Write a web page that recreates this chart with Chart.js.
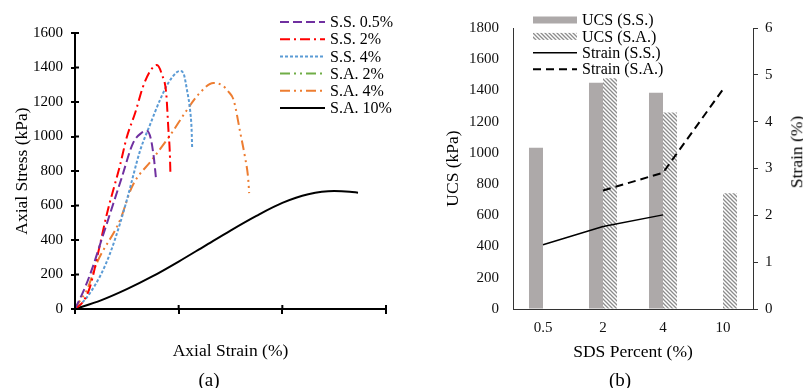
<!DOCTYPE html>
<html>
<head>
<meta charset="utf-8">
<script src="https://cdn.jsdelivr.net/npm/chart.js@4.4.0/dist/chart.umd.min.js"></script>
<style>
  html, body { margin: 0; padding: 0; background: #fff; overflow: hidden; }
  #wrap { position: relative; width: 803px; height: 388px; font-family: "Liberation Serif", "Times New Roman", serif; color: #000; }
  .box { position: absolute; top: 0; height: 388px; }
  .txt { position: absolute; white-space: nowrap; transform: translate(-50%, -50%); line-height: 1; }
</style>
</head>
<body>
<div id="wrap">
  <div class="box" style="left:0;width:400px"><canvas id="stressChart" width="400" height="388"></canvas></div>
  <div class="box" style="left:400px;width:403px"><canvas id="ucsChart" width="403" height="388"></canvas></div>
  <div class="txt" style="left:209px;top:379px;font-size:19px">(a)</div>
  <div class="txt" style="left:620px;top:379px;font-size:19px">(b)</div>
  <div class="txt" style="left:797px;top:152px;font-size:17.5px;transform:translate(-50%,-50%) rotate(-90deg)">Strain (%)</div>
</div>
<script>
const serif = '"Liberation Serif", "Times New Roman", serif';

// (a) stress-strain curves: strain (%) and axial stress (kPa)
const ss05Strain = [0, 0.19, 0.35, 0.5, 0.68, 0.9, 1.12, 1.28, 1.39, 1.46, 1.52, 1.56];
const ss05Stress = [0, 122, 250, 390, 556, 760, 962, 1020, 1032, 990, 880, 765];
const ss2Strain = [0, 0.15, 0.29, 0.45, 0.61, 0.87, 1.0, 1.16, 1.31, 1.45, 1.58, 1.68, 1.76, 1.8, 1.83, 1.84];
const ss2Stress = [0, 40, 128, 330, 545, 835, 997, 1136, 1287, 1380, 1414, 1356, 1250, 1050, 900, 794];
const ss4Strain = [0, 0.15, 0.29, 0.5, 0.68, 0.87, 1.0, 1.26, 1.45, 1.64, 1.8, 1.97, 2.03, 2.1, 2.16, 2.22, 2.25, 2.26];
const ss4Stress = [0, 40, 93, 200, 325, 497, 632, 922, 1070, 1212, 1310, 1374, 1380, 1360, 1270, 1154, 1038, 933];
const sa2Strain = [];
const sa2Stress = [];
const sa4Strain = [0, 0.1, 0.23, 0.42, 0.87, 1.1, 1.5, 1.84, 2.16, 2.4, 2.67, 2.85, 2.96, 3.06, 3.19, 3.28, 3.34, 3.36];
const sa4Stress = [0, 50, 110, 266, 516, 709, 870, 1009, 1154, 1250, 1310, 1295, 1260, 1212, 1020, 880, 760, 672];
const sa10Strain = [0, 0.5, 1.0, 1.5, 2.0, 2.5, 3.0, 3.5, 4.0, 4.5, 5.0, 5.3, 5.46];
const sa10Stress = [0, 50, 115, 190, 275, 365, 455, 540, 615, 665, 684, 680, 674];

// (b) UCS and strain at failure vs SDS percent
const sdsLabels = ['0.5', '2', '4', '10'];
const ucsSS = [1033, 1450, 1386, null];
const ucsSA = [null, 1478, 1258, 741];
const failStrainSS = [1.37, 1.76, 2.01, null];
const failStrainSA = [null, 2.53, 2.91, 4.69];

const pts = (xs, ys) => xs.map((x, i) => ({ x: x, y: ys[i] }));
const plainNum = v => String(v);

// legend drawn inside the plot, like the original figure
const boxLegend = {
  id: 'boxLegend',
  afterDraw(chart, args, opts) {
    const ctx = chart.ctx;
    ctx.save();
    ctx.font = opts.size + 'px ' + serif;
    ctx.textBaseline = 'middle';
    chart.data.datasets.forEach((ds, i) => {
      const y = opts.top + i * opts.rowHeight;
      const x0 = opts.left;
      const x1 = opts.left + opts.swatch;
      if (ds.type === 'bar') {
        ctx.fillStyle = ds.backgroundColor;
        ctx.fillRect(x0, y - 3.5, opts.swatch, 7);
      } else {
        ctx.strokeStyle = ds.borderColor;
        ctx.lineWidth = ds.borderWidth || 2;
        ctx.setLineDash(ds.borderDash || []);
        ctx.beginPath();
        ctx.moveTo(x0, y);
        ctx.lineTo(x1, y);
        ctx.stroke();
        ctx.setLineDash([]);
      }
      ctx.fillStyle = '#000';
      ctx.fillText(ds.label, x1 + opts.gap, y + 1);
    });
    ctx.restore();
  }
};

// tick marks that cross the axis line
const innerTicks = {
  id: 'innerTicks',
  afterDraw(chart) {
    const { ctx, scales: { x, y } } = chart;
    ctx.save();
    ctx.strokeStyle = '#000';
    ctx.lineWidth = 2;
    ctx.beginPath();
    x.ticks.forEach(t => {
      const px = x.getPixelForValue(t.value);
      ctx.moveTo(px, y.bottom);
      ctx.lineTo(px, y.bottom - 4);
    });
    y.ticks.forEach(t => {
      const py = y.getPixelForValue(t.value);
      ctx.moveTo(x.left, py);
      ctx.lineTo(x.left + 4, py);
    });
    ctx.stroke();
    ctx.restore();
  }
};

new Chart(document.getElementById('stressChart'), {
  type: 'line',
  data: {
    datasets: [
      { label: 'S.S. 0.5%', data: pts(ss05Strain, ss05Stress), borderColor: '#7030A0', borderDash: [9, 4] },
      { label: 'S.S. 2%', data: pts(ss2Strain, ss2Stress), borderColor: '#FF0000', borderDash: [10, 4, 2, 4] },
      { label: 'S.S. 4%', data: pts(ss4Strain, ss4Stress), borderColor: '#5B9BD5', borderDash: [3, 2] },
      { label: 'S.A. 2%', data: pts(sa2Strain, sa2Stress), borderColor: '#70AD47', borderDash: [10, 4, 2, 4, 2, 4] },
      { label: 'S.A. 4%', data: pts(sa4Strain, sa4Stress), borderColor: '#ED7D31', borderDash: [10, 4, 2, 4, 2, 4] },
      { label: 'S.A. 10%', data: pts(sa10Strain, sa10Stress), borderColor: '#000000' }
    ]
  },
  options: {
    responsive: false,
    animation: false,
    layout: { padding: { top: 33, right: 14, bottom: 22, left: 0 } },
    elements: {
      point: { radius: 0 },
      line: { borderWidth: 2, cubicInterpolationMode: 'monotone', fill: false }
    },
    plugins: {
      legend: { display: false },
      tooltip: { enabled: false },
      boxLegend: { left: 280, top: 22, rowHeight: 17.2, swatch: 45, gap: 5, size: 16 }
    },
    scales: {
      x: {
        type: 'linear', min: 0, max: 6,
        ticks: { stepSize: 2, display: false },
        grid: { drawOnChartArea: false, color: '#000', lineWidth: 2, tickLength: 5 },
        border: { color: '#000', width: 2 },
        title: { display: true, text: 'Axial Strain (%)', color: '#000', font: { family: serif, size: 17.5 }, padding: { top: 0, bottom: 4.5 } },
        afterFit: s => { s.height = 57; }
      },
      y: {
        min: 0, max: 1600,
        ticks: { stepSize: 200, padding: 8, color: '#000', font: { family: serif, size: 15 }, callback: plainNum },
        grid: { drawOnChartArea: false, color: '#000', lineWidth: 2, tickLength: 4 },
        border: { color: '#000', width: 2 },
        title: { display: true, text: 'Axial Stress (kPa)', color: '#000', font: { family: serif, size: 17.5 }, padding: { top: 11.5, bottom: 0 } },
        afterFit: s => { s.width = 75; }
      }
    }
  },
  plugins: [boxLegend, innerTicks]
});

const ucsCanvas = document.getElementById('ucsChart');
function makeHatch(ctx) {
  const c = document.createElement('canvas');
  c.width = 4;
  c.height = 4;
  const g = c.getContext('2d');
  g.fillStyle = '#fff';
  g.fillRect(0, 0, 4, 4);
  g.strokeStyle = '#8c8c8c';
  g.lineWidth = 1.3;
  g.beginPath();
  g.moveTo(-1, -1); g.lineTo(5, 5);
  g.moveTo(3, -1); g.lineTo(5, 1);
  g.moveTo(-1, 3); g.lineTo(1, 5);
  g.stroke();
  return ctx.createPattern(c, 'repeat');
}
const hatch = makeHatch(ucsCanvas.getContext('2d'));

new Chart(ucsCanvas, {
  type: 'bar',
  data: {
    labels: sdsLabels,
    datasets: [
      { type: 'bar', label: 'UCS (S.S.)', data: ucsSS, backgroundColor: '#ADA9A9', yAxisID: 'y', order: 1, categoryPercentage: 0.467, barPercentage: 1 },
      { type: 'bar', label: 'UCS (S.A.)', data: ucsSA, backgroundColor: hatch, yAxisID: 'y', order: 1, categoryPercentage: 0.467, barPercentage: 1 },
      { type: 'line', label: 'Strain (S.S.)', data: failStrainSS, borderColor: '#000', borderWidth: 1.5, pointRadius: 0, yAxisID: 'y1', order: 0 },
      { type: 'line', label: 'Strain (S.A.)', data: failStrainSA, borderColor: '#000', borderWidth: 2, borderDash: [8, 5], pointRadius: 0, yAxisID: 'y1', order: 0 }
    ]
  },
  options: {
    responsive: false,
    animation: false,
    layout: { padding: { top: 28, right: 0, bottom: 22, left: 0 } },
    plugins: {
      legend: { display: false },
      tooltip: { enabled: false },
      boxLegend: { left: 133, top: 20, rowHeight: 16.4, swatch: 44, gap: 5, size: 16 }
    },
    scales: {
      x: {
        grid: { drawOnChartArea: false, drawTicks: false },
        border: { color: '#333', width: 1 },
        ticks: { color: '#111', padding: 10, font: { family: serif, size: 15 } },
        title: { display: true, text: 'SDS Percent (%)', color: '#000', font: { family: serif, size: 17.5 }, padding: { top: 0, bottom: 3.5 } },
        afterFit: s => { s.height = 57; }
      },
      y: {
        position: 'left', min: 0, max: 1800,
        ticks: { stepSize: 200, padding: 14, color: '#111', font: { family: serif, size: 15 }, callback: plainNum },
        grid: { drawOnChartArea: false, drawTicks: false },
        border: { color: '#333', width: 1 },
        title: { display: true, text: 'UCS (kPa)', color: '#000', font: { family: serif, size: 17.5 }, padding: { top: 42.5, bottom: 0 } },
        afterFit: s => { s.width = 113; }
      },
      y1: {
        position: 'right', min: 0, max: 6,
        ticks: { stepSize: 1, padding: 7, color: '#111', font: { family: serif, size: 15 }, callback: plainNum },
        grid: { drawOnChartArea: false, color: '#333', tickLength: 5 },
        border: { color: '#333', width: 1 },
        afterFit: s => { s.width = 50; }
      }
    }
  },
  plugins: [boxLegend]
});
</script>
</body>
</html>
